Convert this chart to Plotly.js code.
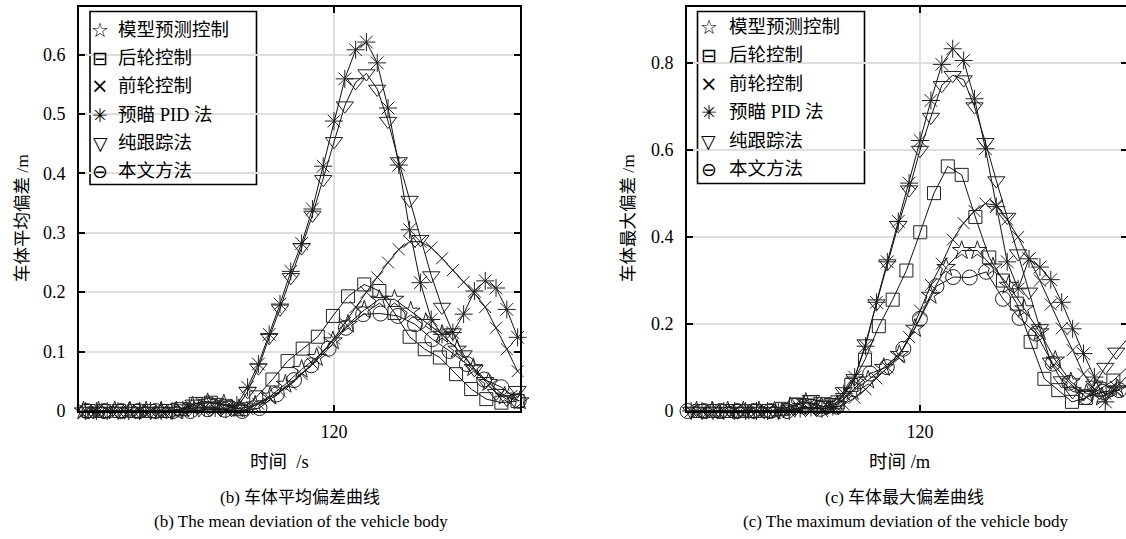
<!DOCTYPE html>
<html><head><meta charset="utf-8">
<script src="https://cdn.plot.ly/plotly-3.0.1.min.js"></script>
<style>html,body{margin:0;padding:0;overflow:hidden;background:#fff}</style>
</head><body><div id="chart"></div>
<script>
// ---------- Left chart (b): mean deviation ----------
const tL_step1 = [97,98,99,100,101,102,103,104,105,106,107,108,109,110,111,112,113,114,115,116,117,118,119,120,121,122,123,124,125,126,127,128,129,130,131,132,133,134,135,136,137];
const pidL   = [0,0,0,0,0,0,0,0,0,0.002,0.005,0.006,0.005,0.003,0.01,0.04,0.079,0.129,0.18,0.235,0.282,0.34,0.412,0.488,0.559,0.608,0.621,0.586,0.51,0.414,0.305,0.216,0.154,0.129,0.132,0.163,0.202,0.219,0.207,0.171,0.124];
const pureL  = [0,0,0,0,0,0,0,0,0,0.004,0.012,0.016,0.015,0.01,0.004,0.033,0.073,0.124,0.172,0.225,0.275,0.33,0.39,0.454,0.514,0.553,0.568,0.542,0.488,0.42,0.355,0.289,0.228,0.175,0.132,0.095,0.07,0.05,0.03,0.02,0.035];
const frontL = [0,0,0,0,0,0,0,0,0,0,0,0,0,0,0,0.003,0.012,0.022,0.033,0.045,0.062,0.08,0.1,0.122,0.148,0.175,0.2,0.225,0.25,0.272,0.285,0.285,0.275,0.257,0.237,0.217,0.198,0.175,0.14,0.104,0.067];
const tL_rear = [97.3,98.7,100.1,101.5,102.9,104.4,105.8,107.2,108.6,110.0,111.4,112.8,114.3,115.7,117.1,118.5,119.9,121.3,122.8,124.2,125.6,127.0,128.4,129.8,131.3,132.7,134.1,135.5,137.0];
const rearL  = [0,0,0,0,0,0,0.003,0.012,0.014,0.008,0.003,0.023,0.053,0.084,0.105,0.125,0.16,0.193,0.213,0.202,0.165,0.125,0.104,0.09,0.062,0.037,0.02,0.014,0.017];
const tL_ours = [97.1,98.7,100.3,101.9,103.5,105.1,106.7,108.3,109.9,111.5,113.1,114.7,116.3,117.9,119.5,121.1,122.7,124.3,125.9,127.5,129.1,130.7,132.3,133.9,135.5,137.1];
const oursL  = [0,0,0,0,0,0,0,0.003,0.002,0,0.005,0.028,0.052,0.077,0.105,0.14,0.163,0.164,0.16,0.146,0.121,0.101,0.079,0.053,0.04,0.017];
const tL_mpc = [96.8,98.2,99.7,101.1,102.6,104.0,105.4,106.9,108.3,109.8,111.2,112.7,114.1,115.5,117.0,118.4,119.9,121.3,122.8,124.2,125.6,127.1,128.5,130.0,131.4,132.9,134.3,135.8,137.2];
const mpcL   = [0,0,0,0,0,0,0,0.008,0.014,0.012,0.004,0.01,0.025,0.045,0.07,0.09,0.118,0.146,0.17,0.188,0.188,0.168,0.149,0.129,0.104,0.073,0.048,0.025,0.017];

// ---------- Right chart (c): maximum deviation ----------
const tR_step1 = [99,100,101,102,103,104,105,106,107,108,109,110,111,112,113,114,115,116,117,118,119,120,121,122,123,124,125,126,127,128,129,130,131,132,133,134,135,136,137,138,139];
const pidR   = [0,0,0,0,0,0,0,0,0,0,0.005,0.008,0.005,0.01,0.04,0.078,0.149,0.25,0.343,0.436,0.524,0.622,0.714,0.797,0.833,0.806,0.718,0.603,0.47,0.343,0.281,0.35,0.331,0.302,0.25,0.189,0.132,0.078,0.021,0.055,0.08];
const pureR  = [0,0,0,0,0,0,0,0,0,0.005,0.02,0.027,0.022,0.02,0.045,0.075,0.155,0.247,0.339,0.427,0.509,0.6,0.676,0.749,0.772,0.762,0.7,0.618,0.53,0.446,0.362,0.274,0.19,0.113,0.07,0.045,0.04,0.06,0.101,0.136,0.165];
const frontR = [0,0,0,0,0,0,0,0,0,0,0,0,0,0.005,0.015,0.03,0.05,0.075,0.1,0.124,0.17,0.231,0.29,0.339,0.394,0.432,0.46,0.477,0.473,0.44,0.4,0.35,0.3,0.245,0.19,0.14,0.085,0.05,0.04,0.045,0.06];
const tR_rear = [99.76,101.03,102.29,103.56,104.83,106.09,107.36,108.62,109.89,111.16,112.42,113.69,114.95,116.22,117.49,118.75,120.02,121.28,122.55,123.82,125.08,126.35,127.61,128.88,130.15,131.41,132.68,133.94,135.21,136.48,137.74,139.01];
const rearR  = [0,0,0,0,0,0,0.005,0.015,0.02,0.01,0.02,0.06,0.118,0.195,0.256,0.323,0.411,0.501,0.5625,0.543,0.446,0.353,0.3,0.247,0.159,0.074,0.048,0.021,0.03,0.05,0.07,0.1];
const tR_ours = [98.67,100.19,101.71,103.23,104.76,106.28,107.80,109.33,110.85,112.38,113.90,115.42,116.95,118.47,119.99,121.51,123.04,124.56,126.08,127.61,129.13,130.65,132.18,133.70,135.22,136.75,138.27];
const oursR  = [0,0,0,0,0,0,0,0.01,0.005,0.01,0.05,0.086,0.101,0.143,0.212,0.287,0.308,0.307,0.32,0.258,0.214,0.178,0.109,0.065,0.032,0.044,0.048];
const tR_mpc = [99.50,100.93,102.36,103.79,105.22,106.65,108.08,109.52,110.95,112.38,113.81,115.24,116.67,118.10,119.53,120.96,122.39,123.82,125.26,126.69,128.12,129.55,130.98,132.41,133.84,135.27,136.70,138.13];
const mpcR   = [0,0,0,0,0,0,0.01,0.02,0.01,0.015,0.045,0.071,0.1,0.13,0.19,0.266,0.33,0.369,0.369,0.331,0.289,0.235,0.182,0.117,0.067,0.04,0.032,0.051];

const seriesNames = ['模型预测控制','后轮控制','前轮控制','预瞄 PID 法','纯跟踪法','本文方法'];
const legendGlyphs = ['☆','⊟','×','✳','▽','⊖'];
const yTicksL = [0,0.1,0.2,0.3,0.4,0.5,0.6];
const yTickTextL = ['0','0.1','0.2','0.3','0.4','0.5','0.6'];
const yTicksR = [0,0.2,0.4,0.6,0.8];
const yTickTextR = ['0','0.2','0.4','0.6','0.8'];
const xTicks = [120];
const xTickText = ['120'];

// ---------- layout geometry ----------
const W = 1128, H = 539;
const FONT = "Liberation Serif, Noto Sans CJK SC, serif";
const symFont = "DejaVu Sans, sans-serif";
const plotTop = 7, plotBot = 411;
const L = {x0: 79, x1: 520, r: [96.39, 137.22], yr: [0, 0.68]};
const R = {x0: 687, x1: 1127, r: [98.62, 138.99], yr: [0, 0.929]};

const styles = [
  {sym: 'star-open', size: 14},
  {sym: 'square-open', size: 13},
  {sym: 'x-thin-open', size: 12},
  {sym: 'asterisk-open', size: 15},
  {sym: 'triangle-down-open', size: 15},
  {sym: 'circle-open', size: 15}
];

function mk(x, y, k, xa, ya) {
  return {
    type: 'scatter', mode: 'lines+markers', x: x, y: y, xaxis: xa, yaxis: ya,
    cliponaxis: false, showlegend: false, hoverinfo: 'skip', name: seriesNames[k],
    line: {color: '#111', width: 1},
    marker: {symbol: styles[k].sym, size: styles[k].size, color: '#222',
             line: {color: '#222', width: 1}}
  };
}

const data = [
  mk(tL_mpc, mpcL, 0, 'x', 'y'),
  mk(tL_rear, rearL, 1, 'x', 'y'),
  mk(tL_step1, frontL, 2, 'x', 'y'),
  mk(tL_step1, pidL, 3, 'x', 'y'),
  mk(tL_step1, pureL, 4, 'x', 'y'),
  mk(tL_ours, oursL, 5, 'x', 'y'),
  mk(tR_mpc, mpcR, 0, 'x2', 'y2'),
  mk(tR_rear, rearR, 1, 'x2', 'y2'),
  mk(tR_step1, frontR, 2, 'x2', 'y2'),
  mk(tR_step1, pidR, 3, 'x2', 'y2'),
  mk(tR_step1, pureR, 4, 'x2', 'y2'),
  mk(tR_ours, oursR, 5, 'x2', 'y2')
];

function xax(g) {
  return {
    domain: [g.x0 / W, g.x1 / W], range: g.r, tickmode: 'array', tickvals: xTicks, ticktext: xTickText,
    showgrid: true, gridcolor: '#dedede', gridwidth: 2, zeroline: false,
    showline: true, linecolor: '#000', linewidth: 2, mirror: 'ticks',
    ticks: 'inside', ticklen: 6, tickwidth: 2, tickcolor: '#000',
    tickfont: {family: FONT, size: 18, color: '#000'}, ticklabelstandoff: 3, fixedrange: true
  };
}
function yax(g, tv, tt, anchor) {
  return {
    domain: [1 - plotBot / H, 1 - plotTop / H], range: g.yr, anchor: anchor,
    tickmode: 'array', tickvals: tv, ticktext: tt,
    showgrid: true, gridcolor: '#dedede', gridwidth: 2, zeroline: false,
    showline: true, linecolor: '#000', linewidth: 2, mirror: 'ticks',
    ticks: 'inside', ticklen: 6, tickwidth: 2, tickcolor: '#000',
    tickfont: {family: FONT, size: 18, color: '#000'}, ticklabelstandoff: 8, fixedrange: true
  };
}

function px2x(g, px) { return g.r[0] + (px - g.x0) * (g.r[1] - g.r[0]) / (g.x1 - g.x0); }
function py2y(g, py) { return g.yr[0] + (plotBot - py) * (g.yr[1] - g.yr[0]) / (plotBot - plotTop); }

const shapes = [
  {type: 'rect', xref: 'x', yref: 'y', layer: 'below',
   x0: px2x(L, 90), x1: px2x(L, 256.5), y0: py2y(L, 184.5), y1: py2y(L, 11.5),
   fillcolor: '#fff', line: {color: '#000', width: 1.6}},
  {type: 'rect', xref: 'x2', yref: 'y2', layer: 'below',
   x0: px2x(R, 697.5), x1: px2x(R, 864.5), y0: py2y(R, 183.5), y1: py2y(R, 11.5),
   fillcolor: '#fff', line: {color: '#000', width: 1.6}}
];

const ann = [];
function txt(text, px, py, size, opts) {
  ann.push(Object.assign({text: text, xref: 'paper', yref: 'paper', x: px / W, y: 1 - py / H,
    xanchor: 'center', yanchor: 'middle', showarrow: false,
    font: {family: FONT, size: size, color: '#000'}}, opts || {}));
}
const glyphSize = [20, 19, 21, 19, 19, 19];
// legends
for (let k = 0; k < 6; k++) {
  const yl = 29.5 + 28.4 * k, yr = 27 + 28.4 * k;
  txt(legendGlyphs[k], 100, yl, glyphSize[k], {font: {family: symFont, size: glyphSize[k], color: '#000'}});
  txt(seriesNames[k], 116, yl, 18.5, {xanchor: 'left'});
  txt(legendGlyphs[k], 708.5, yr, glyphSize[k], {font: {family: symFont, size: glyphSize[k], color: '#000'}});
  txt(seriesNames[k], 727, yr, 18.5, {xanchor: 'left'});
}
// axis titles
txt('车体平均偏差 /m', 22, 218, 17.5, {textangle: -90});
txt('车体最大偏差 /m', 628, 218, 17.5, {textangle: -90});
txt('时间  /s', 279, 462, 18.5);
txt('时间 /m', 900, 462, 18.5);
// captions
txt('(b) 车体平均偏差曲线', 300, 497, 17);
txt('(b) The mean deviation of the vehicle body', 301, 521, 17);
txt('(c) 车体最大偏差曲线', 904, 497, 17);
txt('(c) The maximum deviation of the vehicle body', 905, 521, 17);

const layout = {
  width: W, height: H, autosize: false,
  margin: {l: 0, r: 0, t: 0, b: 0, pad: 0},
  paper_bgcolor: '#fff', plot_bgcolor: '#fff', showlegend: false,
  xaxis: Object.assign(xax(L), {anchor: 'y'}),
  yaxis: yax(L, yTicksL, yTickTextL, 'x'),
  xaxis2: Object.assign(xax(R), {anchor: 'y2'}),
  yaxis2: yax(R, yTicksR, yTickTextR, 'x2'),
  shapes: shapes, annotations: ann
};

Plotly.newPlot('chart', data, layout, {displayModeBar: false, staticPlot: true});
</script></body></html>
